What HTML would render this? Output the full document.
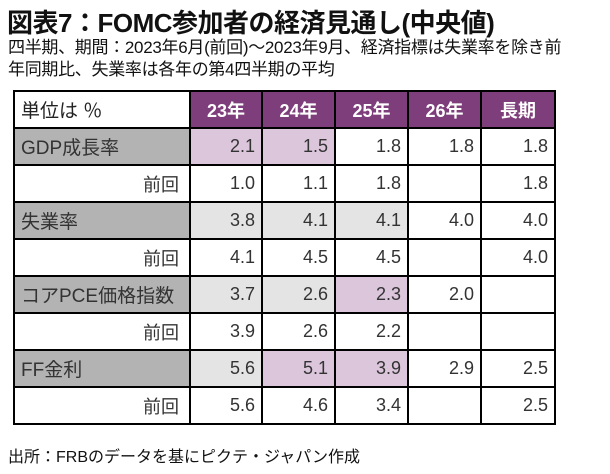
<!DOCTYPE html>
<html><head><meta charset="utf-8"><style>
body{margin:0;width:610px;height:474px;background:#fff;font-family:"Liberation Sans","Noto Sans CJK JP",sans-serif;color:#111;overflow:hidden;position:relative}
.t{position:absolute;left:7px;top:3px;font-size:26px;font-weight:bold;letter-spacing:-0.5px}
.s{position:absolute;left:8px;font-size:17px;line-height:22px;top:37px;width:605px;white-space:nowrap;letter-spacing:-0.3px}
table{position:absolute;left:13px;top:90px;border-collapse:collapse;table-layout:fixed}
td{border:2px solid #000;height:35px;padding:0 6px;font-size:18px;text-align:right;color:#333}
td.l{text-align:left;font-size:19px}
td.p{padding-right:10px}
.h{background:#7e3d7b;color:#fff;font-weight:bold;text-align:center;font-size:18px}
.g{background:#b3b3b3}
.lg{background:#e4e4e4}
.pk{background:#dcc6dc}
.f{position:absolute;left:8px;top:443px;font-size:16px}
</style></head><body>
<div class="t">図表7：FOMC参加者の経済見通し(中央値)</div>
<div class="s">四半期、期間：2023年6月(前回)～2023年9月、経済指標は失業率を除き前<br>年同期比、失業率は各年の第4四半期の平均</div>
<table>
<colgroup><col style="width:176px"><col style="width:72px"><col style="width:73px"><col style="width:73px"><col style="width:73px"><col style="width:74px"></colgroup>
<tr><td class="l" style="color:#222">単位は ％</td><td class="h">23年</td><td class="h">24年</td><td class="h">25年</td><td class="h">26年</td><td class="h">長期</td></tr>
<tr><td class="l g">GDP成長率</td><td class="pk">2.1</td><td class="pk">1.5</td><td>1.8</td><td>1.8</td><td>1.8</td></tr>
<tr><td class="p">前回</td><td>1.0</td><td>1.1</td><td>1.8</td><td></td><td>1.8</td></tr>
<tr><td class="l g">失業率</td><td class="lg">3.8</td><td class="lg">4.1</td><td class="lg">4.1</td><td>4.0</td><td>4.0</td></tr>
<tr><td class="p">前回</td><td>4.1</td><td>4.5</td><td>4.5</td><td></td><td>4.0</td></tr>
<tr><td class="l g">コアPCE価格指数</td><td class="lg">3.7</td><td class="lg">2.6</td><td class="pk">2.3</td><td>2.0</td><td></td></tr>
<tr><td class="p">前回</td><td>3.9</td><td>2.6</td><td>2.2</td><td></td><td></td></tr>
<tr><td class="l g">FF金利</td><td class="lg">5.6</td><td class="pk">5.1</td><td class="pk">3.9</td><td>2.9</td><td>2.5</td></tr>
<tr><td class="p">前回</td><td>5.6</td><td>4.6</td><td>3.4</td><td></td><td>2.5</td></tr>
</table>
<div class="f">出所：FRBのデータを基にピクテ・ジャパン作成</div>
</body></html>
